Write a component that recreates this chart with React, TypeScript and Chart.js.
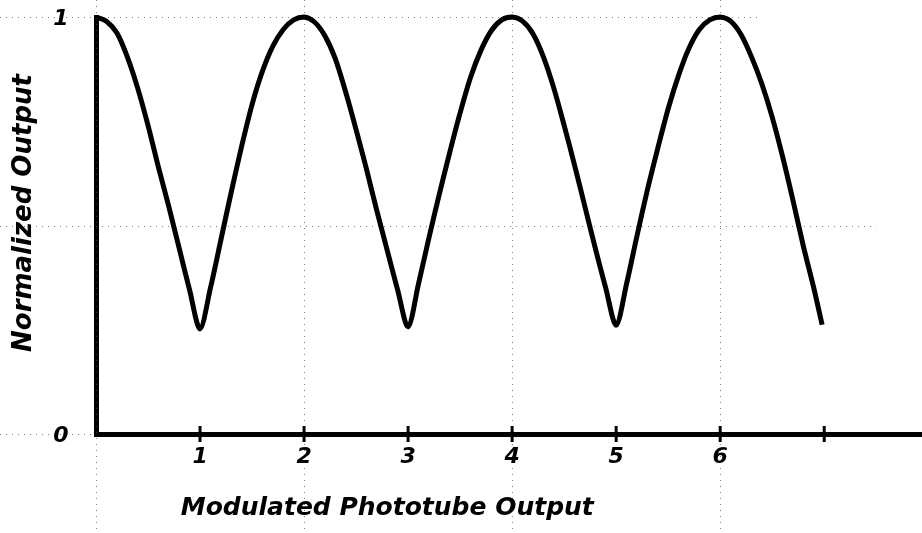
import React, { useEffect, useRef } from "react";
import { Chart, registerables } from "chart.js";

Chart.register(...registerables);

// Curve (x in "Modulated Phototube Output" units, y normalized)
const xValues = [
  0, 0.1, 0.2, 0.3, 0.4, 0.5, 0.6, 0.7, 0.8, 0.9, 1.0,
  1.1, 1.2, 1.3, 1.4, 1.5, 1.6, 1.7, 1.8, 1.9, 2.0,
  2.1, 2.2, 2.3, 2.4, 2.5, 2.6, 2.7, 2.8, 2.9, 3.0,
  3.1, 3.2, 3.3, 3.4, 3.5, 3.6, 3.7, 3.8, 3.9, 4.0,
  4.1, 4.2, 4.3, 4.4, 4.5, 4.6, 4.7, 4.8, 4.9, 5.0,
  5.1, 5.2, 5.3, 5.4, 5.5, 5.6, 5.7, 5.8, 5.9, 6.0,
  6.1, 6.2, 6.3, 6.4, 6.5, 6.6, 6.7, 6.8, 6.9, 6.98,
];
const yValues = [
  1.0, 0.99, 0.962, 0.905, 0.83, 0.74, 0.64, 0.545, 0.445, 0.345, 0.252,
  0.35, 0.465, 0.58, 0.69, 0.79, 0.87, 0.93, 0.97, 0.993, 1.0,
  0.988, 0.955, 0.9, 0.82, 0.73, 0.635, 0.535, 0.44, 0.345, 0.257,
  0.36, 0.47, 0.575, 0.675, 0.77, 0.855, 0.92, 0.967, 0.993, 1.0,
  0.99, 0.96, 0.905, 0.83, 0.74, 0.645, 0.545, 0.445, 0.35, 0.261,
  0.36, 0.475, 0.585, 0.685, 0.78, 0.86, 0.925, 0.97, 0.993, 1.0,
  0.99, 0.958, 0.905, 0.84, 0.76, 0.665, 0.56, 0.45, 0.35, 0.262,
];
const xTickValues = [1, 2, 3, 4, 5, 6, 7];
const xTickLabels = ["1", "2", "3", "4", "5", "6", ""];
const yTickValues = [0, 1];
const yTickLabels = ["0", "1"];
const xTitle = "Modulated Phototube Output";
const yTitle = "Normalized Output";
const xPaperLines = [0, 2, 4, 6];
const yPaperLines = [0, 0.5, 1];

const FONT = '"DejaVu Sans", sans-serif';

const paperPlugin = {
  id: "paper",
  beforeDatasetsDraw(chart: any) {
    const { ctx, scales, height } = chart;
    const xs = scales.x;
    const ys = scales.y;
    ctx.save();
    ctx.strokeStyle = "rgba(70,70,70,0.7)";
    ctx.lineWidth = 1;
    ctx.setLineDash([1, 5]);
    for (const v of xPaperLines) {
      const px = Math.round(xs.getPixelForValue(v)) + 0.5;
      ctx.beginPath();
      ctx.moveTo(px, 0);
      ctx.lineTo(px, height);
      ctx.stroke();
    }
    for (const v of yPaperLines) {
      const py = Math.round(ys.getPixelForValue(v)) + 0.5;
      const end = v === 0 ? xs.left : v === 1 ? xs.getPixelForValue(6.4) : xs.getPixelForValue(7.5);
      ctx.beginPath();
      ctx.moveTo(0, py);
      ctx.lineTo(end, py);
      ctx.stroke();
    }
    ctx.restore();
  },
  afterDatasetsDraw(chart: any) {
    const { ctx, scales } = chart;
    const xs = scales.x;
    const ys = scales.y;
    const y0 = ys.getPixelForValue(0);
    const x0 = xs.getPixelForValue(0);
    ctx.save();
    ctx.strokeStyle = "#000";
    ctx.fillStyle = "#000";
    ctx.lineWidth = 3;
    ctx.font = `italic bold 22px ${FONT}`;
    ctx.textAlign = "center";
    ctx.textBaseline = "middle";
    xTickValues.forEach((v, i) => {
      const px = xs.getPixelForValue(v);
      ctx.beginPath();
      ctx.moveTo(px, y0 - 8);
      ctx.lineTo(px, y0 + 8);
      ctx.stroke();
      if (xTickLabels[i]) ctx.fillText(xTickLabels[i], px, y0 + 23);
    });
    yTickValues.forEach((v, i) => {
      ctx.fillText(yTickLabels[i], x0 - 35, ys.getPixelForValue(v) + 2);
    });
    ctx.font = `italic bold 25px ${FONT}`;
    ctx.fillText(xTitle, xs.getPixelForValue(2.8), 508);
    ctx.font = `italic bold 26px ${FONT}`;
    ctx.translate(24, 213);
    ctx.rotate(-Math.PI / 2);
    ctx.fillText(yTitle, 0, 0);
    ctx.restore();
  },
};

export default function App() {
  const ref = useRef<HTMLCanvasElement | null>(null);
  useEffect(() => {
    if (!ref.current) return;
    const points = xValues.map((x, i) => ({ x, y: yValues[i] }));
    const chart = new Chart(ref.current, {
      type: "line",
      data: {
        datasets: [
          {
            data: points,
            borderColor: "#000",
            borderWidth: 5,
            pointRadius: 0,
            tension: 0.3,
            clip: false as any,
          },
        ],
      },
      options: {
        animation: false,
        responsive: false,
        maintainAspectRatio: false,
        layout: { padding: { top: 17, right: 0, left: 0, bottom: 0 } },
        plugins: { legend: { display: false }, tooltip: { enabled: false }, title: { display: false } },
        scales: {
          x: {
            type: "linear",
            min: 0,
            max: 7.94,
            afterFit: (s: any) => {
              s.height = 99;
            },
            border: { display: true, color: "#000", width: 5 },
            grid: { display: false, drawTicks: false },
            ticks: { display: false, stepSize: 1 },
          },
          y: {
            type: "linear",
            min: 0,
            max: 1,
            afterFit: (s: any) => {
              s.width = 96;
            },
            border: { display: true, color: "#000", width: 5 },
            grid: { display: false, drawTicks: false },
            ticks: { display: false, stepSize: 0.5 },
          },
        },
      },
      plugins: [paperPlugin],
    });
    return () => chart.destroy();
  }, []);
  return (
    <div style={{ position: "fixed", left: 0, top: 0, width: 922, height: 533, background: "#fff" }}>
      <canvas ref={ref} width={922} height={533} style={{ width: 922, height: 533, display: "block" }} />
    </div>
  );
}
